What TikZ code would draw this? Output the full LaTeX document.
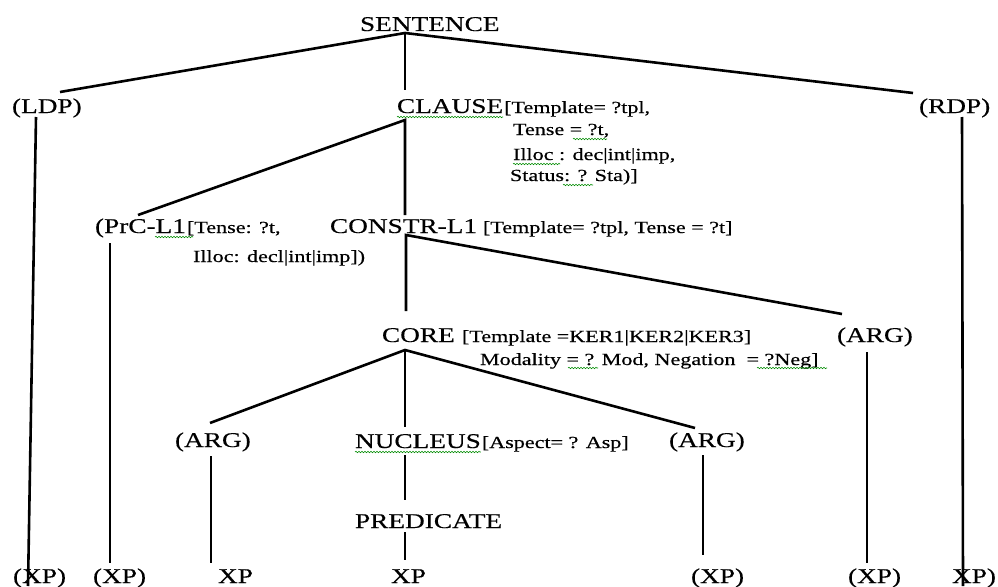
\documentclass[tikz,border=0pt]{standalone}
\usepackage{fontspec}
\setmainfont{Liberation Serif}[FakeStretch=1.3, FakeBold=0.4]
\usetikzlibrary{decorations.pathmorphing}
\tikzset{
  lbl/.style={anchor=base west, inner sep=0pt, outer sep=0pt, font=\fontsize{21}{25}\selectfont},
  ann/.style={anchor=base west, inner sep=0pt, outer sep=0pt, font=\fontsize{17}{21}\selectfont},
  edge/.style={line width=2.6pt, line cap=butt},
  squig/.style={decorate, decoration={snake, amplitude=0.7pt, segment length=3pt}, draw=green!55!black, line width=0.6pt}
}
\begin{document}
\begin{tikzpicture}[x=1pt,y=-1pt]
\useasboundingbox[fill=white] (0,0) rectangle (998,586);

% ---- text nodes ----
\node[lbl] (sent) at (360,31) {SENTENCE};
\node[lbl] (ldp) at (12,113) {(LDP)};
\node[lbl] (clause) at (397,113) {CLAUSE};
\node[ann] (clA) at ([xshift=1pt]clause.base east) {[Template= ?tpl,};
\node[ann] (clB) at (513,135) {Tense = ?t,};
\node[ann] (clC) at (513,160) {Illoc : dec|int|imp,};
\node[ann] (clD) at (510,181) {Status: ? Sta)]};
\node[lbl] (rdp) at (919,113) {(RDP)};

\node[lbl] (prc) at (95,233) {(PrC-L1};
\node[ann] (prcA) at ([xshift=1pt]prc.base east) {[Tense: ?t,};
\node[ann] (prcB) at (193,262) {Illoc: decl|int|imp])};
\node[lbl] (constr) at (330,233) {CONSTR-L1};
\node[ann] (constrA) at (483,233) {[Template= ?tpl, Tense = ?t]};

\node[lbl] (core) at (382,342) {CORE};
\node[ann] (coreA) at (462,342) {[Template =KER1|KER2|KER3]};
\node[ann] (coreB) at (480,365) {Modality = ? Mod, Negation \ = ?Neg]};
\node[lbl] (argR) at (837,342) {(ARG)};

\node[lbl] (argL) at (175,447) {(ARG)};
\node[lbl] (nuc) at (355,448) {NUCLEUS};
\node[ann] (nucA) at ([xshift=1pt]nuc.base east) {[Aspect= ? Asp]};
\node[lbl] (argM) at (669,447) {(ARG)};

\node[lbl] (pred) at (355,528) {PREDICATE};

\node[lbl] (xp1) at (13,583) {(XP)};
\node[lbl] (xp2) at (93,583) {(XP)};
\node[lbl] (xp3) at (218,583) {XP};
\node[lbl] (xp4) at (391,583) {XP};
\node[lbl] (xp5) at (691,583) {(XP)};
\node[lbl] (xp6) at (848,583) {(XP)};
\node[lbl] (xp7) at (952,583) {XP)};

% ---- connector end points ----
\coordinate (sentB) at (405,33);
\coordinate (ldpT) at (60,92);
\coordinate (clauseT) at (405,90);
\coordinate (rdpT) at (913,93);
\coordinate (ldpB) at (36,117);
\coordinate (ldpE) at (28,586);
\coordinate (rdpB) at (962,117);
\coordinate (rdpE) at (963,586);
\coordinate (clauseB) at (405,120);
\coordinate (prcT) at (138,215);
\coordinate (constrT) at (405,215);
\coordinate (prcB) at (110,243);
\coordinate (xp2T) at (110,563);
\coordinate (constrB) at (406,235);
\coordinate (coreT) at (406,311);
\coordinate (argRT) at (842,314);
\coordinate (argRB) at (867,352);
\coordinate (xp6T) at (867,563);
\coordinate (coreB) at (405,350);
\coordinate (argLT) at (210,423);
\coordinate (nucT) at (405,427);
\coordinate (argMT) at (695,428);
\coordinate (argLB) at (211,456);
\coordinate (xp3T) at (211,563);
\coordinate (nucB) at (405,455);
\coordinate (predT) at (405,500);
\coordinate (predB) at (405,532);
\coordinate (xp4T) at (405,560);
\coordinate (argMB) at (703,455);
\coordinate (xp5T) at (703,555);

% ---- connectors ----
\draw[edge] (ldpT) -- (sentB) -- (rdpT);
\draw[edge] (sentB) -- (clauseT);
\draw[edge] (ldpB) -- (ldpE);
\draw[edge] (rdpB) -- (rdpE);
\draw[edge] (prcT) -- (clauseB) -- (constrT);
\draw[edge] (prcB) -- (xp2T);
\draw[edge] (coreT) -- (constrB) -- (argRT);
\draw[edge] (argRB) -- (xp6T);
\draw[edge] (argLT) -- (coreB) -- (argMT);
\draw[edge] (coreB) -- (nucT);
\draw[edge] (argLB) -- (xp3T);
\draw[edge] (nucB) -- (predT);
\draw[edge] (predB) -- (xp4T);
\draw[edge] (argMB) -- (xp5T);

% ---- spell-check squiggles ----
\draw[squig] (clause.base west) ++(0,4) -- ([yshift=-4pt]clause.base east);
\draw[squig] (573,139) -- (607,139);
\draw[squig] (513,164) -- (560,164);
\draw[squig] (563,185) -- (593,185);
\draw[squig] (155,237) -- (193,237);
\draw[squig] (568,368) -- (598,368);
\draw[squig] (757,368) -- (827,368);
\draw[squig] (nuc.base west) ++(0,4) -- ([yshift=-4pt]nuc.base east);
\end{tikzpicture}
\end{document}
